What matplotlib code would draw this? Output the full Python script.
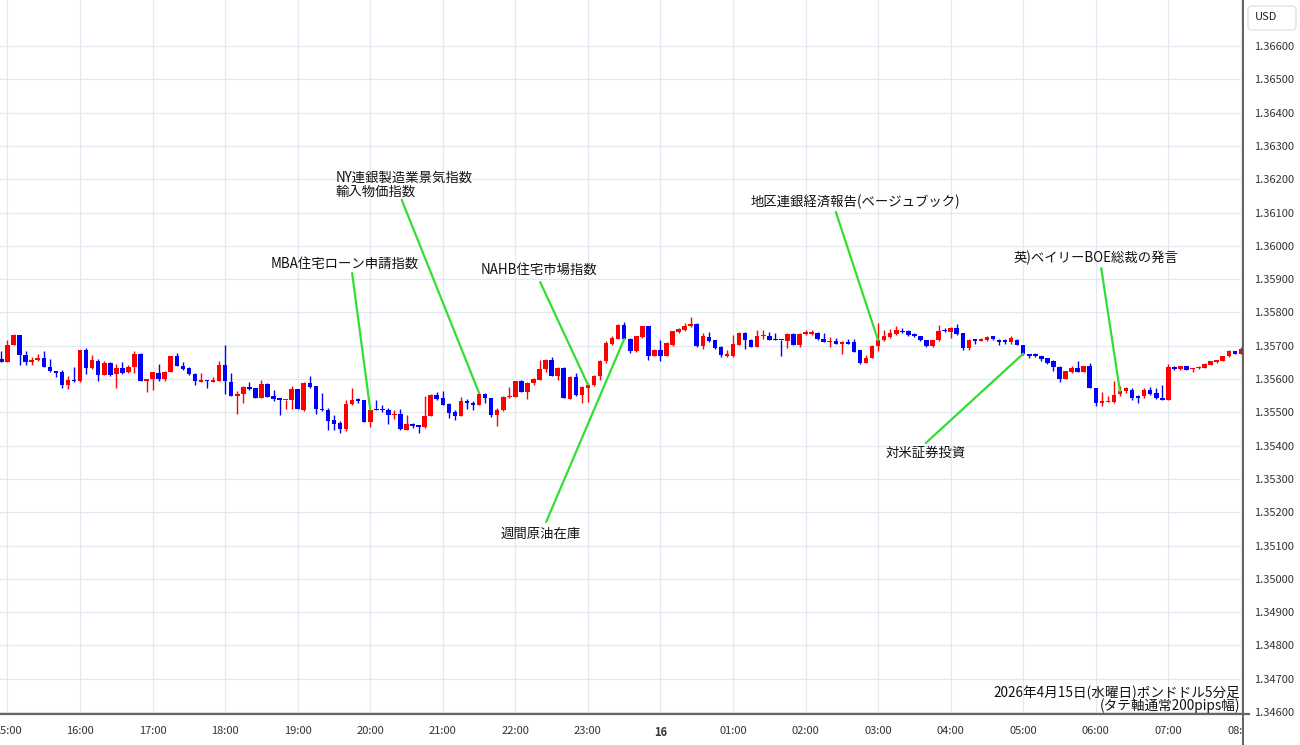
import matplotlib
matplotlib.use("Agg")
import matplotlib.pyplot as plt
import numpy as np
from matplotlib.patches import FancyBboxPatch, Rectangle
from matplotlib.lines import Line2D
from matplotlib.transforms import IdentityTransform

plt.rcParams['font.family'] = ['Noto Sans CJK JP', 'DejaVu Sans']

# ---------------- data (GBP/USD 5-minute candles, 14:55 -> 08:00) ----------------
start_index = -1  # candle index of the first bar (0 = 15:00)

opens = [1.35660, 1.35651, 1.35703, 1.35733, 1.35673, 1.35651, 1.35656, 1.35663, 1.35636, 1.35623,
         1.35620, 1.35583, 1.35598, 1.35593, 1.35686, 1.35633, 1.35653, 1.35613, 1.35648, 1.35615,
         1.35633, 1.35621, 1.35636, 1.35676, 1.35595, 1.35601, 1.35618, 1.35600, 1.35621, 1.35670,
         1.35640, 1.35633, 1.35616, 1.35592, 1.35595, 1.35592, 1.35593, 1.35641, 1.35591, 1.35549,
         1.35554, 1.35576, 1.35573, 1.35543, 1.35585, 1.35550, 1.35542, 1.35536, 1.35536, 1.35571,
         1.35508, 1.35588, 1.35578, 1.35511, 1.35508, 1.35476, 1.35468, 1.35450, 1.35526, 1.35538,
         1.35536, 1.35471, 1.35510, 1.35510, 1.35508, 1.35492, 1.35496, 1.35448, 1.35466, 1.35461,
         1.35456, 1.35488, 1.35553, 1.35543, 1.35526, 1.35501, 1.35490, 1.35535, 1.35528, 1.35523,
         1.35555, 1.35543, 1.35493, 1.35508, 1.35545, 1.35546, 1.35593, 1.35561, 1.35588, 1.35598,
         1.35630, 1.35656, 1.35610, 1.35633, 1.35541, 1.35606, 1.35551, 1.35573, 1.35583, 1.35608,
         1.35653, 1.35706, 1.35720, 1.35763, 1.35721, 1.35683, 1.35726, 1.35758, 1.35670, 1.35686,
         1.35670, 1.35703, 1.35741, 1.35748, 1.35758, 1.35766, 1.35698, 1.35726, 1.35716, 1.35695,
         1.35670, 1.35670, 1.35703, 1.35738, 1.35718, 1.35696, 1.35728, 1.35730, 1.35720, 1.35718,
         1.35713, 1.35735, 1.35703, 1.35736, 1.35736, 1.35738, 1.35721, 1.35711, 1.35713, 1.35706,
         1.35710, 1.35710, 1.35686, 1.35648, 1.35663, 1.35698, 1.35716, 1.35726, 1.35735, 1.35745,
         1.35743, 1.35735, 1.35728, 1.35718, 1.35698, 1.35716, 1.35748, 1.35741, 1.35753, 1.35738,
         1.35693, 1.35720, 1.35715, 1.35716, 1.35728, 1.35718, 1.35715, 1.35711, 1.35718, 1.35703,
         1.35676, 1.35676, 1.35668, 1.35662, 1.35653, 1.35636, 1.35600, 1.35621, 1.35633, 1.35620,
         1.35640, 1.35573, 1.35528, 1.35531, 1.35530, 1.35556, 1.35563, 1.35568, 1.35548, 1.35550,
         1.35568, 1.35558, 1.35543, 1.35538, 1.35636, 1.35630, 1.35638, 1.35630, 1.35633, 1.35634,
         1.35643, 1.35650, 1.35655, 1.35668, 1.35683, 1.35676]

highs = [1.35683, 1.35716, 1.35736, 1.35733, 1.35683, 1.35666, 1.35676, 1.35683, 1.35661, 1.35623,
         1.35628, 1.35608, 1.35636, 1.35686, 1.35694, 1.35673, 1.35660, 1.35653, 1.35650, 1.35646,
         1.35650, 1.35641, 1.35683, 1.35678, 1.35601, 1.35620, 1.35645, 1.35623, 1.35670, 1.35678,
         1.35650, 1.35635, 1.35618, 1.35618, 1.35596, 1.35606, 1.35653, 1.35701, 1.35618, 1.35563,
         1.35580, 1.35590, 1.35573, 1.35596, 1.35588, 1.35566, 1.35542, 1.35538, 1.35580, 1.35571,
         1.35590, 1.35610, 1.35578, 1.35558, 1.35513, 1.35491, 1.35473, 1.35536, 1.35573, 1.35543,
         1.35538, 1.35508, 1.35538, 1.35523, 1.35513, 1.35508, 1.35510, 1.35493, 1.35468, 1.35463,
         1.35548, 1.35556, 1.35560, 1.35563, 1.35528, 1.35506, 1.35546, 1.35540, 1.35533, 1.35558,
         1.35558, 1.35543, 1.35513, 1.35548, 1.35576, 1.35593, 1.35598, 1.35590, 1.35603, 1.35658,
         1.35660, 1.35666, 1.35636, 1.35636, 1.35608, 1.35618, 1.35580, 1.35588, 1.35613, 1.35658,
         1.35713, 1.35728, 1.35766, 1.35771, 1.35723, 1.35728, 1.35758, 1.35758, 1.35690, 1.35716,
         1.35710, 1.35745, 1.35753, 1.35768, 1.35786, 1.35768, 1.35738, 1.35740, 1.35718, 1.35698,
         1.35688, 1.35733, 1.35741, 1.35741, 1.35720, 1.35746, 1.35746, 1.35741, 1.35738, 1.35718,
         1.35738, 1.35738, 1.35738, 1.35748, 1.35748, 1.35740, 1.35738, 1.35726, 1.35723, 1.35713,
         1.35720, 1.35720, 1.35688, 1.35673, 1.35703, 1.35768, 1.35748, 1.35750, 1.35758, 1.35753,
         1.35746, 1.35738, 1.35730, 1.35718, 1.35718, 1.35762, 1.35753, 1.35756, 1.35766, 1.35738,
         1.35720, 1.35720, 1.35722, 1.35728, 1.35730, 1.35720, 1.35720, 1.35730, 1.35720, 1.35703,
         1.35676, 1.35678, 1.35670, 1.35663, 1.35656, 1.35638, 1.35623, 1.35638, 1.35653, 1.35640,
         1.35648, 1.35573, 1.35560, 1.35548, 1.35593, 1.35580, 1.35576, 1.35573, 1.35553, 1.35573,
         1.35576, 1.35573, 1.35583, 1.35646, 1.35638, 1.35640, 1.35640, 1.35634, 1.35638, 1.35648,
         1.35655, 1.35658, 1.35670, 1.35686, 1.35685, 1.35696]

lows = [1.35651, 1.35651, 1.35703, 1.35643, 1.35643, 1.35643, 1.35653, 1.35636, 1.35620, 1.35606,
        1.35573, 1.35570, 1.35590, 1.35590, 1.35616, 1.35630, 1.35595, 1.35613, 1.35610, 1.35573,
        1.35616, 1.35618, 1.35618, 1.35595, 1.35560, 1.35566, 1.35595, 1.35595, 1.35621, 1.35638,
        1.35628, 1.35613, 1.35583, 1.35590, 1.35573, 1.35590, 1.35593, 1.35556, 1.35548, 1.35496,
        1.35528, 1.35568, 1.35543, 1.35543, 1.35546, 1.35533, 1.35493, 1.35510, 1.35510, 1.35510,
        1.35503, 1.35573, 1.35496, 1.35503, 1.35448, 1.35448, 1.35438, 1.35443, 1.35523, 1.35528,
        1.35471, 1.35456, 1.35506, 1.35500, 1.35466, 1.35480, 1.35448, 1.35448, 1.35453, 1.35438,
        1.35453, 1.35488, 1.35538, 1.35523, 1.35483, 1.35478, 1.35488, 1.35510, 1.35508, 1.35523,
        1.35528, 1.35486, 1.35458, 1.35503, 1.35543, 1.35546, 1.35561, 1.35540, 1.35583, 1.35598,
        1.35620, 1.35610, 1.35596, 1.35543, 1.35541, 1.35548, 1.35528, 1.35530, 1.35578, 1.35598,
        1.35648, 1.35703, 1.35720, 1.35720, 1.35678, 1.35680, 1.35723, 1.35656, 1.35670, 1.35653,
        1.35668, 1.35700, 1.35738, 1.35743, 1.35756, 1.35696, 1.35690, 1.35710, 1.35690, 1.35666,
        1.35666, 1.35666, 1.35703, 1.35690, 1.35696, 1.35696, 1.35720, 1.35716, 1.35716, 1.35668,
        1.35693, 1.35703, 1.35696, 1.35733, 1.35733, 1.35718, 1.35710, 1.35696, 1.35706, 1.35676,
        1.35706, 1.35680, 1.35646, 1.35648, 1.35663, 1.35683, 1.35713, 1.35723, 1.35733, 1.35738,
        1.35728, 1.35726, 1.35713, 1.35696, 1.35696, 1.35713, 1.35740, 1.35723, 1.35733, 1.35688,
        1.35686, 1.35706, 1.35713, 1.35714, 1.35718, 1.35703, 1.35706, 1.35706, 1.35701, 1.35673,
        1.35663, 1.35666, 1.35653, 1.35646, 1.35623, 1.35590, 1.35600, 1.35618, 1.35620, 1.35620,
        1.35573, 1.35518, 1.35520, 1.35530, 1.35528, 1.35550, 1.35558, 1.35538, 1.35528, 1.35543,
        1.35552, 1.35540, 1.35536, 1.35538, 1.35626, 1.35628, 1.35626, 1.35620, 1.35630, 1.35633,
        1.35641, 1.35648, 1.35653, 1.35666, 1.35674, 1.35674]

closes = [1.35651, 1.35703, 1.35733, 1.35671, 1.35651, 1.35658, 1.35663, 1.35636, 1.35623, 1.35618,
          1.35583, 1.35598, 1.35593, 1.35686, 1.35633, 1.35656, 1.35613, 1.35648, 1.35613, 1.35633,
          1.35618, 1.35636, 1.35676, 1.35595, 1.35601, 1.35620, 1.35600, 1.35621, 1.35670, 1.35638,
          1.35630, 1.35616, 1.35593, 1.35595, 1.35593, 1.35597, 1.35641, 1.35593, 1.35548, 1.35554,
          1.35576, 1.35571, 1.35543, 1.35585, 1.35546, 1.35540, 1.35536, 1.35538, 1.35571, 1.35510,
          1.35588, 1.35575, 1.35510, 1.35506, 1.35473, 1.35465, 1.35450, 1.35526, 1.35536, 1.35535,
          1.35471, 1.35506, 1.35506, 1.35506, 1.35493, 1.35495, 1.35450, 1.35466, 1.35460, 1.35455,
          1.35488, 1.35553, 1.35541, 1.35523, 1.35498, 1.35490, 1.35533, 1.35528, 1.35523, 1.35555,
          1.35543, 1.35493, 1.35508, 1.35546, 1.35548, 1.35593, 1.35561, 1.35588, 1.35600, 1.35630,
          1.35656, 1.35610, 1.35633, 1.35543, 1.35606, 1.35551, 1.35576, 1.35583, 1.35610, 1.35653,
          1.35708, 1.35723, 1.35763, 1.35720, 1.35683, 1.35728, 1.35758, 1.35670, 1.35686, 1.35670,
          1.35708, 1.35743, 1.35750, 1.35758, 1.35766, 1.35698, 1.35728, 1.35713, 1.35693, 1.35673,
          1.35673, 1.35706, 1.35738, 1.35718, 1.35696, 1.35730, 1.35733, 1.35718, 1.35716, 1.35716,
          1.35735, 1.35703, 1.35735, 1.35741, 1.35741, 1.35720, 1.35711, 1.35715, 1.35706, 1.35710,
          1.35706, 1.35681, 1.35648, 1.35663, 1.35698, 1.35716, 1.35728, 1.35738, 1.35746, 1.35741,
          1.35731, 1.35728, 1.35716, 1.35698, 1.35718, 1.35745, 1.35743, 1.35753, 1.35736, 1.35693,
          1.35718, 1.35713, 1.35720, 1.35726, 1.35720, 1.35710, 1.35712, 1.35723, 1.35703, 1.35676,
          1.35670, 1.35668, 1.35660, 1.35648, 1.35636, 1.35600, 1.35623, 1.35633, 1.35620, 1.35640,
          1.35573, 1.35528, 1.35533, 1.35534, 1.35553, 1.35563, 1.35572, 1.35543, 1.35543, 1.35568,
          1.35555, 1.35543, 1.35538, 1.35636, 1.35630, 1.35638, 1.35628, 1.35634, 1.35636, 1.35646,
          1.35653, 1.35656, 1.35668, 1.35683, 1.35676, 1.35690]

hour_labels = ['15:00', '16:00', '17:00', '18:00', '19:00', '20:00', '21:00', '22:00', '23:00',
               '16', '01:00', '02:00', '03:00', '04:00', '05:00', '06:00', '07:00', '08:00']
bars_per_hour = 12

price_ticks = [1.34600, 1.34700, 1.34800, 1.34900, 1.35000, 1.35100, 1.35200, 1.35300, 1.35400,
               1.35500, 1.35600, 1.35700, 1.35800, 1.35900, 1.36000, 1.36100, 1.36200, 1.36300,
               1.36400, 1.36500, 1.36600]

# event annotations: (label, candle index, candle field for line end, text pos, line start)
event_labels = ['MBA住宅ローン申請指数', 'NY連銀製造業景気指数\n輸入物価指数', 'NAHB住宅市場指数',
                '週間原油在庫', '地区連銀経済報告(ベージュブック)', '対米証券投資', '英)ベイリーBOE総裁の発言']
event_bars = [60, 78, 96, 102, 144, 168, 184]
event_fields = ['high', 'high', 'close', 'close', 'close', 'close', 'close']
event_text_pos = [(55.8, 1.35945), (54.3, 1.36183), (87.9, 1.35927), (88.2, 1.35135),
                  (140.3, 1.36132), (151.9, 1.35378), (180.0, 1.35963)]
event_line_start = [(57.0, 1.35918), (65.2, 1.36138), (88.1, 1.35891), (89.1, 1.35171),
                    (137.0, 1.36102), (151.9, 1.35408), (180.9, 1.35933)]
event_align = ['center', 'left', 'center', 'center', 'center', 'center', 'center']

title_line1 = '2026年4月15日(水曜日)ポンドドル5分足'
title_line2 = '(タテ軸通常200pips幅)'

# ---------------- figure ----------------
W, H = 1300, 745
fig = plt.figure(figsize=(W / 100, H / 100), dpi=100)
fig.patch.set_facecolor('white')

plot_right = 1243
plot_bottom = 714
ax = fig.add_axes([0, (H - plot_bottom) / H, plot_right / W, plot_bottom / H])

UP = '#ff0000'
DOWN = '#0000ff'

O = np.array(opens)
Hh = np.array(highs)
L = np.array(lows)
C = np.array(closes)
x = np.arange(start_index, start_index + len(O))
cols = np.where(C >= O, UP, DOWN)

ax.vlines(x, L, Hh, colors=cols, linewidth=1.0, zorder=3)
body_h = np.maximum(np.abs(C - O), 0.00004)
ax.bar(x, body_h, bottom=np.minimum(O, C), width=0.75, color=cols, linewidth=0, zorder=4)

# axes limits (pixel mapping: 6.046 px per bar, 15:00 at x=7.5px; 33.3 px per 0.001)
px_per_bar = 6.046
x0 = -7.5 / px_per_bar
ax.set_xlim(x0, x0 + plot_right / px_per_bar)
ax.set_ylim(1.366 - (plot_bottom - 46) / 33300, 1.366 + 46 / 33300)

hour_pos = [i * bars_per_hour for i in range(len(hour_labels))]
ax.set_xticks(hour_pos)
ax.set_xticklabels(hour_labels, fontsize=8, color='#333333')
for lab in ax.get_xticklabels():
    if lab.get_text() == '16':
        lab.set_fontweight('bold')
ax.set_yticks(price_ticks)
ax.set_yticklabels(['%.5f' % p for p in price_ticks], fontsize=8, color='#333333')
ax.yaxis.tick_right()
ax.tick_params(axis='both', length=0)
ax.tick_params(axis='x', pad=9)
ax.tick_params(axis='y', pad=8)
ax.grid(True, color='#e3e9f0', linewidth=0.9, zorder=0)
ax.set_axisbelow(True)
for s in ax.spines.values():
    s.set_visible(False)

# annotations
GREEN = '#33dd33'
for lab, bi, fld, tp, ls, al in zip(event_labels, event_bars, event_fields,
                                    event_text_pos, event_line_start, event_align):
    k = bi - start_index
    yend = Hh[k] if fld == 'high' else C[k]
    ax.plot([ls[0], bi], [ls[1], yend], color=GREEN, linewidth=1.6, zorder=5,
            solid_capstyle='round')
    ax.text(tp[0], tp[1], lab, fontsize=9.6, color='#111111', ha=al, va='center',
            linespacing=1.0, zorder=6)

# frame lines
fig.add_artist(Rectangle((plot_right / W, 0), (W - plot_right) / W, 26 / H,
                         transform=fig.transFigure, facecolor='white', edgecolor='none', zorder=2))
fig.add_artist(Line2D([plot_right / W, plot_right / W], [0, 1], transform=fig.transFigure,
                      color='#555555', linewidth=1.3, zorder=3))
fig.add_artist(Line2D([0, (plot_right + 6) / W], [(H - plot_bottom) / H] * 2, transform=fig.transFigure,
                      color='#666666', linewidth=1.6, zorder=3))

# USD box
fig.add_artist(FancyBboxPatch((1248, H - 30), 48, 24, boxstyle='round,pad=0,rounding_size=4',
                              transform=IdentityTransform(), facecolor='white',
                              edgecolor='#e2e2e2', linewidth=1.0, zorder=4))
fig.text(1266 / W, 1 - 17 / H, 'USD', fontsize=8, color='#222222', ha='center', va='center', zorder=5)

# title (bottom right)
fig.text(1240 / W, 1 - 693 / H, title_line1, fontsize=9.8, color='#111111', ha='right', va='center')
fig.text(1240 / W, 1 - 706 / H, title_line2, fontsize=9.8, color='#111111', ha='right', va='center')

fig.savefig('out.png', dpi=100, facecolor='white')
